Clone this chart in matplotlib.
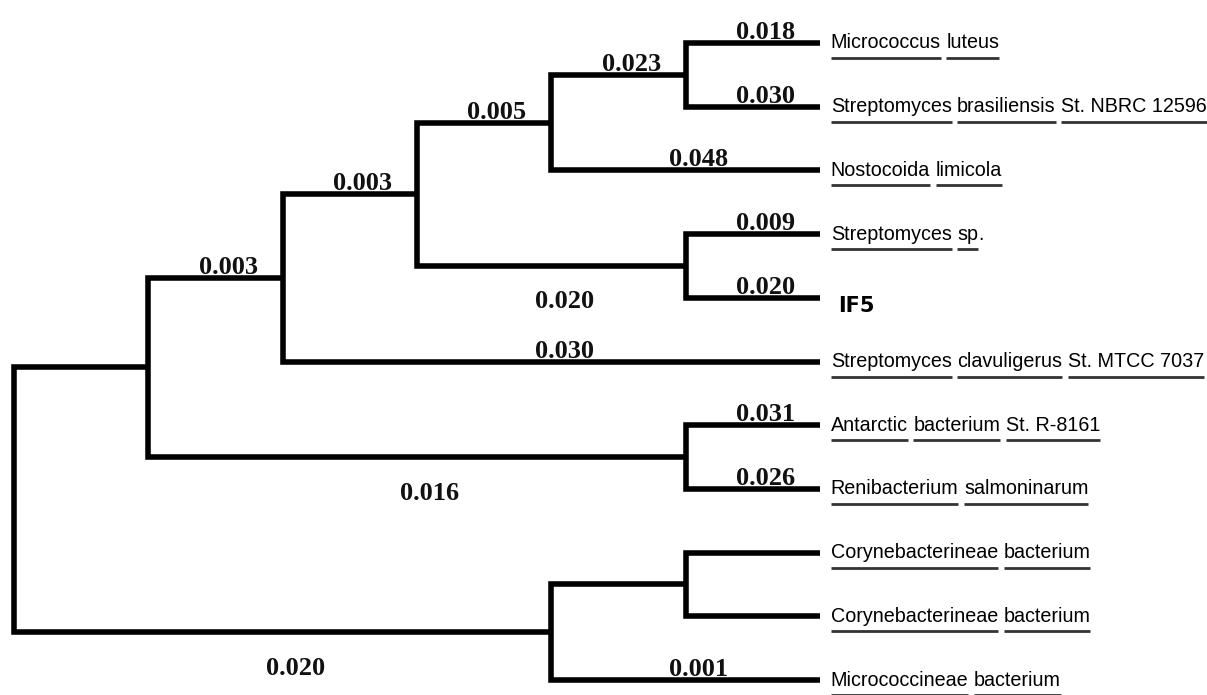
import matplotlib
matplotlib.use('Agg')
import matplotlib.pyplot as plt
from matplotlib import font_manager as fm

# leaves, top to bottom; each is a list of underlined word groups plus a trailing plain suffix
leaf_ids = ['L0', 'L1', 'L2', 'L3', 'L4', 'L5', 'L6', 'L7', 'L8', 'L9', 'L10']
leaf_words = [
    ['Micrococcus', 'luteus'],
    ['Streptomyces', 'brasiliensis', 'St. NBRC 12596'],
    ['Nostocoida', 'limicola'],
    ['Streptomyces', 'sp'],
    [],
    ['Streptomyces', 'clavuligerus', 'St. MTCC 7037'],
    ['Antarctic', 'bacterium', 'St. R-8161'],
    ['Renibacterium', 'salmoninarum'],
    ['Corynebacterineae', 'bacterium'],
    ['Corynebacterineae', 'bacterium'],
    ['Micrococcineae', 'bacterium'],
]
leaf_suffix = ['', '', '', '.', '', '', '', '', '', '', '']
query_leaf = 'L4'
query_name = 'IF5'

# tree topology (internal node -> two children) and drawing depth of every internal node
children = {
    'A': ['L0', 'L1'],
    'B': ['A', 'L2'],
    'C': ['L3', 'L4'],
    'D': ['B', 'C'],
    'E': ['D', 'L5'],
    'F': ['L6', 'L7'],
    'G': ['E', 'F'],
    'H': ['L8', 'L9'],
    'I': ['H', 'L10'],
    'root': ['G', 'I'],
}
depth = {'root': 0, 'G': 1, 'E': 2, 'D': 3, 'B': 4, 'I': 4,
         'A': 5, 'C': 5, 'F': 5, 'H': 5}
leaf_depth = 6

# branch length labels (branch leading to the node)
branch_len = {'L0': '0.018', 'L1': '0.030', 'L2': '0.048', 'L3': '0.009',
              'L4': '0.020', 'L5': '0.030', 'L6': '0.031', 'L7': '0.026',
              'L10': '0.001', 'A': '0.023', 'B': '0.005', 'D': '0.003',
              'E': '0.003', 'C': '0.020', 'F': '0.016', 'I': '0.020'}
label_below = {'C', 'F', 'I'}

# layout in pixel-like units
W, H = 1207, 695
x0, dx = 14, 134.3
y0, dy = 43, 63.7
LW = 4.0

xpos, ypos = {}, {}
for i, lid in enumerate(leaf_ids):
    xpos[lid] = x0 + leaf_depth * dx
    ypos[lid] = y0 + i * dy

def place(n):
    if n in ypos:
        return ypos[n]
    ys = [place(c) for c in children[n]]
    ypos[n] = sum(ys) / len(ys)
    xpos[n] = x0 + depth[n] * dx
    return ypos[n]
place('root')

parent = {c: p for p, cs in children.items() for c in cs}

fig = plt.figure(figsize=(W / 100, H / 100), dpi=100)
ax = fig.add_axes([0, 0, 1, 1])
ax.set_xlim(0, W); ax.set_ylim(H, 0); ax.axis('off')

for p, (a, b) in children.items():
    px = xpos[p]
    ax.plot([xpos[a], px, px, xpos[b]], [ypos[a], ypos[a], ypos[b], ypos[b]],
            color='black', lw=LW, solid_joinstyle='miter', solid_capstyle='butt')

num_font = dict(family='Liberation Serif', size=19, weight='bold', color='#111111')
for n, lab in branch_len.items():
    p = parent[n]
    xm = (xpos[p] + xpos[n]) / 2 + 13
    if n in label_below:
        ax.text(xm, ypos[n] + 36, lab, ha='center', va='center', **num_font)
    else:
        ax.text(xm, ypos[n] - 4, lab, ha='center', va='baseline', **num_font)

try:
    fm.findfont(fm.FontProperties(family='Liberation Sans Narrow'), fallback_to_default=False)
    leaf_font = dict(family='Liberation Sans Narrow', size=17)
except ValueError:
    leaf_font = dict(family='Liberation Sans', size=14.2)

renderer = fig.canvas.get_renderer()
inv = ax.transData.inverted()
s = ax.text(0, 0, 'a a', **leaf_font)
s2 = ax.text(0, 0, 'aa', **leaf_font)
space = s.get_window_extent(renderer).width - s2.get_window_extent(renderer).width
s.remove(); s2.remove()

for i, lid in enumerate(leaf_ids):
    y = ypos[lid]
    x = xpos[lid] + 11
    if lid == query_leaf:
        ax.text(x + 7, y + 8, query_name, ha='left', va='center',
                family='DejaVu Sans', weight='heavy', size=15)
        continue
    for w in leaf_words[i]:
        t = ax.text(x, y, w, ha='left', va='center', color='black', **leaf_font)
        bb = t.get_window_extent(renderer)
        (bx0, _), (bx1, _) = inv.transform([[bb.x0, bb.y0], [bb.x1, bb.y1]])
        ax.plot([bx0, bx1], [y + 15, y + 15], color='#333333', lw=2.0, solid_capstyle='butt')
        x = bx1 + space
    if leaf_suffix[i]:
        ax.text(x - space, y, leaf_suffix[i], ha='left', va='center', color='black', **leaf_font)

fig.savefig('out.png', dpi=100, facecolor='white')
